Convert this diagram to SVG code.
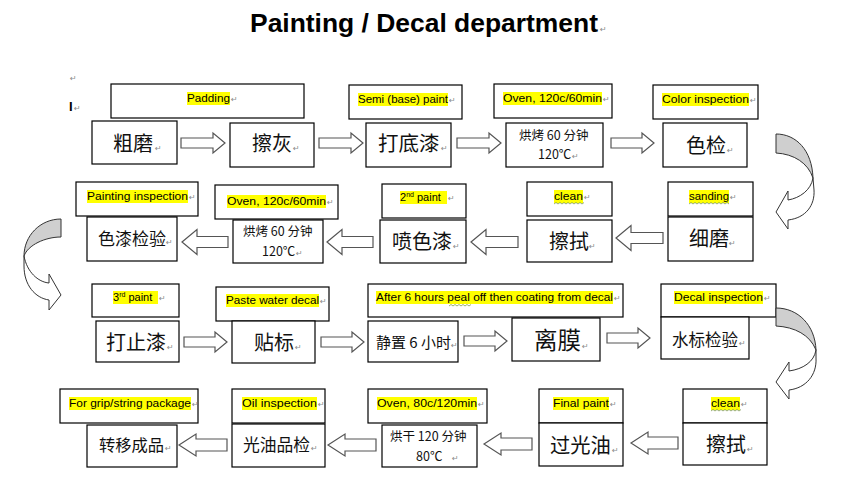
<svg xmlns="http://www.w3.org/2000/svg" width="860" height="477" viewBox="0 0 860 477">
<style>
.bx{fill:#fff;stroke:#000;stroke-width:1.2}
.hl{fill:#ffff00}
.lb{font-family:"Liberation Sans",Arial,sans-serif;font-size:11px;fill:#000}
.cj{font-family:"Noto Sans CJK SC","Noto Sans CJK JP",sans-serif;fill:#111}
.sm{font-size:12.5px}
.pm{font-family:"DejaVu Sans",sans-serif;font-size:8px;fill:#8a8a8a}
.ba{fill:#fff;stroke:#555;stroke-width:1.2}
.cb{fill:#cfcfcf;stroke:#333;stroke-width:1}
.cf{fill:#fff;stroke:#333;stroke-width:1}
.wv{fill:none;stroke:#7f9a4f;stroke-width:0.8}
</style>
<rect width="860" height="477" fill="#fff"/>
<g id="title">
<text x="250" y="32" font-family="Liberation Sans,Arial,sans-serif" font-weight="bold" font-size="26" textLength="348" lengthAdjust="spacingAndGlyphs">Painting / Decal department</text>
<text class="pm" x="600" y="32">↵</text>
</g>
<g id="marks">
<text class="pm" x="70" y="81">↵</text>
<text x="69" y="111" font-family="Liberation Sans,Arial,sans-serif" font-weight="bold" font-size="13">I</text>
<text class="pm" x="74" y="111">↵</text>
</g>

<!-- Row 1 -->
<g id="n-cumo">
<rect class="bx" x="111" y="84" width="193" height="34"/>
<rect class="hl" x="187" y="92" width="43" height="13"/>
<text class="lb" x="187" y="102" textLength="43" lengthAdjust="spacingAndGlyphs">Padding</text>
<text class="pm" x="231" y="102">↵</text>
<rect class="bx" x="92" y="121" width="85" height="43"/>
<text class="cj" x="113" y="151" font-size="20">粗磨</text>
<text class="pm" x="155" y="151">↵</text>
</g>
<g id="n-cahui">
<rect class="bx" x="230" y="123" width="84" height="44"/>
<text class="cj" x="252" y="151" font-size="20">擦灰</text>
<text class="pm" x="293" y="151">↵</text>
</g>
<g id="n-dadiqi">
<rect class="bx" x="349" y="85" width="113" height="34"/>
<rect class="hl" x="358" y="93" width="90" height="13"/>
<text class="lb" x="358" y="103" textLength="90" lengthAdjust="spacingAndGlyphs">Semi (base) paint</text>
<text class="pm" x="449" y="103">↵</text>
<rect class="bx" x="366" y="123" width="85" height="44"/>
<text class="cj" x="378" y="151" font-size="20.5">打底漆</text>
<text class="pm" x="441" y="151">↵</text>
</g>
<g id="n-oven1">
<rect class="bx" x="494" y="84" width="118" height="34"/>
<rect class="hl" x="503" y="92" width="99" height="13"/>
<text class="lb" x="503" y="102" textLength="99" lengthAdjust="spacingAndGlyphs">Oven, 120c/60min</text>
<text class="pm" x="603" y="102">↵</text>
<rect class="bx" x="506" y="123" width="97" height="44"/>
<text class="cj sm" x="519" y="140">烘烤 60 分钟</text>
<text class="cj sm" x="538" y="159">120℃</text>
<text class="pm" x="572" y="159">↵</text>
</g>
<g id="n-sejian">
<rect class="bx" x="653" y="85" width="105" height="34"/>
<rect class="hl" x="662" y="93" width="87" height="13"/>
<text class="lb" x="662" y="103" textLength="87" lengthAdjust="spacingAndGlyphs">Color inspection</text>
<text class="pm" x="750" y="103">↵</text>
<rect class="bx" x="663" y="123" width="84" height="44"/>
<text class="cj" x="686" y="153" font-size="20">色检</text>
<text class="pm" x="727" y="153">↵</text>
</g>

<!-- Row 2 -->
<g id="n-ximo">
<rect class="bx" x="668" y="182" width="85" height="34"/>
<rect class="hl" x="689" y="190" width="40" height="13"/>
<text class="lb" x="689" y="200" textLength="40" lengthAdjust="spacingAndGlyphs">sanding</text>
<path class="wv" d="M689,204 l2,-1.5 l2,1.5 l2,-1.5 l2,1.5 l2,-1.5 l2,1.5 l2,-1.5 l2,1.5 l2,-1.5 l2,1.5 l2,-1.5 l2,1.5 l2,-1.5 l2,1.5 l2,-1.5 l2,1.5 l2,-1.5 l2,1.5 l2,-1.5 l2,1.5"/>
<text class="pm" x="730" y="200">↵</text>
<rect class="bx" x="668" y="217" width="85" height="44"/>
<text class="cj" x="689" y="246" font-size="20">细磨</text>
<text class="pm" x="729" y="246">↵</text>
</g>
<g id="n-cashi1">
<rect class="bx" x="527" y="182" width="85" height="34"/>
<rect class="hl" x="554" y="190" width="29" height="13"/>
<text class="lb" x="554" y="200" textLength="29" lengthAdjust="spacingAndGlyphs">clean</text>
<path class="wv" d="M554,204 l2,-1.5 l2,1.5 l2,-1.5 l2,1.5 l2,-1.5 l2,1.5 l2,-1.5 l2,1.5 l2,-1.5 l2,1.5 l2,-1.5 l2,1.5 l2,-1.5 l2,1.5 l2,-1.5"/>
<text class="pm" x="584" y="200">↵</text>
<rect class="bx" x="527" y="220" width="85" height="42"/>
<text class="cj" x="549" y="249" font-size="20">擦拭</text>
<text class="pm" x="589" y="249">↵</text>
</g>
<g id="n-pensegqi">
<rect class="bx" x="382" y="184" width="84" height="34"/>
<rect class="hl" x="400" y="191" width="47" height="13"/>
<text class="lb" x="400" y="201">2<tspan font-size="7" dy="-4">nd</tspan><tspan dy="4"> paint</tspan></text>
<text class="pm" x="448" y="201">↵</text>
<rect class="bx" x="380" y="220" width="86" height="43"/>
<text class="cj" x="392" y="249" font-size="20">喷色漆</text>
<text class="pm" x="453" y="249">↵</text>
</g>
<g id="n-oven2">
<rect class="bx" x="215" y="185" width="123" height="34"/>
<rect class="hl" x="227" y="195" width="99" height="13"/>
<text class="lb" x="227" y="205" textLength="99" lengthAdjust="spacingAndGlyphs">Oven, 120c/60min</text>
<text class="pm" x="327" y="205">↵</text>
<rect class="bx" x="233" y="220" width="90" height="43"/>
<text class="cj sm" x="243" y="236">烘烤 60 分钟</text>
<text class="cj sm" x="262" y="256">120℃</text>
<text class="pm" x="296" y="256">↵</text>
</g>
<g id="n-seqijianyan">
<rect class="bx" x="76" y="182" width="122" height="34"/>
<rect class="hl" x="87" y="190" width="101" height="13"/>
<text class="lb" x="87" y="200" textLength="101" lengthAdjust="spacingAndGlyphs">Painting inspection</text>
<text class="pm" x="189" y="200">↵</text>
<rect class="bx" x="87" y="217" width="90" height="44"/>
<text class="cj" x="98" y="244.5" font-size="17">色漆检验</text>
<text class="pm" x="166" y="244.5">↵</text>
</g>

<!-- Row 3 -->
<g id="n-dazhiqi">
<rect class="bx" x="92" y="284" width="87" height="33"/>
<rect class="hl" x="113" y="291" width="45" height="13"/>
<text class="lb" x="113" y="301">3<tspan font-size="7" dy="-4">rd</tspan><tspan dy="4"> paint</tspan></text>
<text class="pm" x="159" y="301">↵</text>
<rect class="bx" x="96" y="321" width="83" height="41"/>
<text class="cj" x="106" y="350" font-size="20">打止漆</text>
<text class="pm" x="167" y="350">↵</text>
</g>
<g id="n-tiebiao">
<rect class="bx" x="216" y="287" width="113" height="34"/>
<rect class="hl" x="226" y="294" width="93" height="13"/>
<text class="lb" x="226" y="304" textLength="93" lengthAdjust="spacingAndGlyphs">Paste water decal</text>
<text class="pm" x="320" y="304">↵</text>
<rect class="bx" x="232" y="321" width="83" height="42"/>
<text class="cj" x="254" y="350" font-size="20">贴标</text>
<text class="pm" x="295" y="350">↵</text>
</g>
<g id="n-jingzhi">
<rect class="bx" x="368" y="284" width="255" height="33"/>
<rect class="hl" x="376" y="291" width="237" height="13"/>
<text class="lb" x="376" y="301" textLength="237" lengthAdjust="spacingAndGlyphs">After 6 hours peal off then coating from decal</text>
<path class="wv" d="M449,306 l2,-1.5 l2,1.5 l2,-1.5 l2,1.5 l2,-1.5 l2,1.5 l2,-1.5 l2,1.5 l2,-1.5 l2,1.5 l2,-1.5"/>
<text class="pm" x="614" y="301">↵</text>
<rect class="bx" x="368" y="321" width="90" height="41"/>
<text class="cj" x="376" y="347.5" font-size="15">静置 6 小时</text>
<text class="pm" x="451" y="347.5">↵</text>
</g>
<g id="n-limo">
<rect class="bx" x="512" y="318" width="88" height="43"/>
<text class="cj" x="534" y="349" font-size="23.5">离膜</text>
<text class="pm" x="582" y="349">↵</text>
</g>
<g id="n-shuibiaojianyan">
<rect class="bx" x="661" y="284" width="115" height="33"/>
<rect class="hl" x="674" y="291" width="89" height="13"/>
<text class="lb" x="674" y="301" textLength="89" lengthAdjust="spacingAndGlyphs">Decal inspection</text>
<text class="pm" x="764" y="301">↵</text>
<rect class="bx" x="661" y="317" width="88" height="42"/>
<text class="cj" x="672" y="346" font-size="16.5">水标检验</text>
<text class="pm" x="739" y="346">↵</text>
</g>

<!-- Row 4 -->
<g id="n-cashi2">
<rect class="bx" x="683" y="389" width="84" height="34"/>
<rect class="hl" x="711" y="397" width="29" height="13"/>
<text class="lb" x="711" y="407" textLength="29" lengthAdjust="spacingAndGlyphs">clean</text>
<path class="wv" d="M711,411 l2,-1.5 l2,1.5 l2,-1.5 l2,1.5 l2,-1.5 l2,1.5 l2,-1.5 l2,1.5 l2,-1.5 l2,1.5 l2,-1.5 l2,1.5 l2,-1.5 l2,1.5 l2,-1.5"/>
<text class="pm" x="741" y="407">↵</text>
<rect class="bx" x="683" y="423" width="84" height="42"/>
<text class="cj" x="706" y="452" font-size="20">擦拭</text>
<text class="pm" x="747" y="452">↵</text>
</g>
<g id="n-guoguangyou">
<rect class="bx" x="539" y="389" width="84" height="34"/>
<rect class="hl" x="553" y="397" width="56" height="13"/>
<text class="lb" x="553" y="407" textLength="56" lengthAdjust="spacingAndGlyphs">Final paint</text>
<text class="pm" x="610" y="407">↵</text>
<rect class="bx" x="539" y="423" width="84" height="43" stroke-width="1.6"/>
<text class="cj" x="550" y="453" font-size="20.3">过光油</text>
<text class="pm" x="612" y="453">↵</text>
</g>
<g id="n-oven3">
<rect class="bx" x="368" y="389" width="119" height="34"/>
<rect class="hl" x="377" y="397" width="100" height="13"/>
<text class="lb" x="377" y="407" textLength="100" lengthAdjust="spacingAndGlyphs">Oven, 80c/120min</text>
<text class="pm" x="478" y="407">↵</text>
<rect class="bx" x="382" y="425" width="95" height="42"/>
<text class="cj sm" x="390" y="441">烘干 120 分钟</text>
<text class="cj sm" x="416" y="461">80℃</text>
<text class="pm" x="452" y="461">↵</text>
</g>
<g id="n-guangyoupinjian">
<rect class="bx" x="232" y="389" width="93" height="34"/>
<rect class="hl" x="242" y="397" width="75" height="13"/>
<text class="lb" x="242" y="407" textLength="75" lengthAdjust="spacingAndGlyphs">Oil inspection</text>
<text class="pm" x="318" y="407">↵</text>
<rect class="bx" x="232" y="424" width="93" height="43"/>
<text class="cj" x="243" y="451" font-size="16.8">光油品检</text>
<text class="pm" x="311" y="451">↵</text>
</g>
<g id="n-zhuanyi">
<rect class="bx" x="60" y="389" width="138" height="34"/>
<rect class="hl" x="69" y="397" width="122" height="13"/>
<text class="lb" x="69" y="407" textLength="122" lengthAdjust="spacingAndGlyphs">For grip/string package</text>
<text class="pm" x="192" y="407">↵</text>
<rect class="bx" x="87" y="425" width="90" height="42"/>
<text class="cj" x="99" y="451" font-size="16.3">转移成品</text>
<text class="pm" x="165" y="451">↵</text>
</g>

<g id="connectors">
<path class="ba" d="M181,138 H213 V133 L225,143 L213,153 V148 H181 Z"/>
<path class="ba" d="M319,138 H351 V133 L363,143 L351,153 V148 H319 Z"/>
<path class="ba" d="M457,138 H489 V133 L501,143 L489,153 V148 H457 Z"/>
<path class="ba" d="M611,138 H642 V133 L654,143 L642,153 V148 H611 Z"/>
<path class="cb" d="M776,134 C796,134 812,150 813,178 C808,163 794,154 776,153 Z"/>
<path class="cf" d="M813,178 C811,190 800,198 788,200 L788,191 L776,212 L788,229 L788,220 C806,218 815,205 814,190 Z"/>
<path class="ba" d="M182,242 L197,229.5 V236.5 H228 V247.5 H197 V254.5 Z"/>
<path class="ba" d="M327,242 L342,229.5 V236.5 H373 V247.5 H342 V254.5 Z"/>
<path class="ba" d="M471,242 L486,229.5 V236.5 H518 V247.5 H486 V254.5 Z"/>
<path class="ba" d="M616,238 L631,225.5 V232.5 H663 V243.5 H631 V250.5 Z"/>
<path class="cb" d="M61,219 C40,219 24,236 24,256 C28,245 45,237 61,237 Z"/>
<path class="cf" d="M24,256 C27,272 38,282 49,283 L49,274 L61,295 L49,310 L49,300 C35,298 24,285 24,266 Z"/>
<path class="ba" d="M184,337 H215 V332 L227,342 L215,352 V347 H184 Z"/>
<path class="ba" d="M321,337 H352 V332 L364,342 L352,352 V347 H321 Z"/>
<path class="ba" d="M464,336 H495 V331 L507,341 L495,351 V346 H464 Z"/>
<path class="ba" d="M607,333 H638 V328 L650,338 L638,348 V343 H607 Z"/>
<path class="cb" d="M776,308 C798,308 815,325 816,350 C810,335 795,327 776,326 Z"/>
<path class="cf" d="M816,350 C814,362 803,369 789,371 L789,362 L776,382 L789,399 L789,390 C806,388 817,375 816,358 Z"/>
<path class="ba" d="M179,445 L196,434 V439 H227 V451 H196 V456 Z"/>
<path class="ba" d="M328,445 L345,434 V439 H376 V451 H345 V456 Z"/>
<path class="ba" d="M484,444 L501,433 V438 H532 V450 H501 V455 Z"/>
<path class="ba" d="M631,443 L648,432 V437 H678 V449 H648 V454 Z"/>
</g>
</svg>
